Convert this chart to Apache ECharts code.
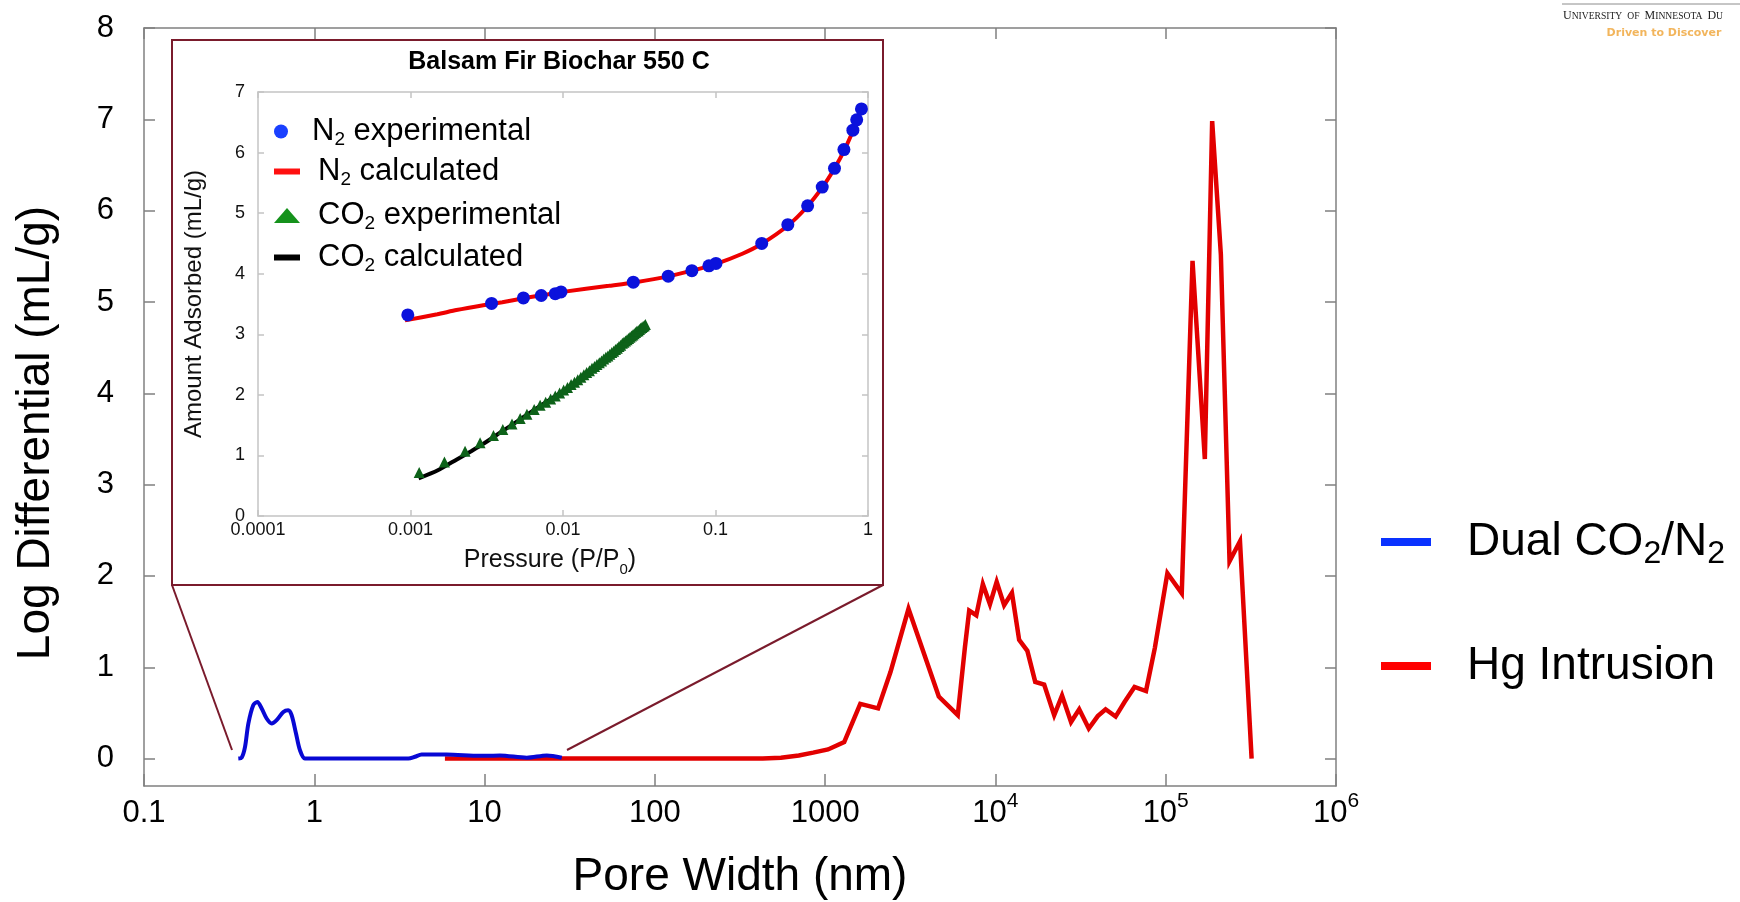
<!DOCTYPE html>
<html><head><meta charset="utf-8">
<script src="https://cdn.jsdelivr.net/npm/echarts@6/dist/echarts.min.js"></script>
<style>html,body{margin:0;padding:0;background:#fff}#c{width:1740px;height:902px}</style>
</head><body><div id="c"></div>
<script>
const FONT = "'Liberation Sans', Arial, sans-serif";

// ---- main chart ----
const mainXTicks = [0.1, 1, 10, 100, 1000, 10000, 100000, 1000000];
const mainXTickLabels = ['0.1', '1', '10', '100', '1000', '10^4', '10^5', '10^6'];
const mainYTicks = [0, 1, 2, 3, 4, 5, 6, 7, 8];

const dualPoreWidth = [0.358, 0.375, 0.392, 0.410, 0.438, 0.463, 0.491, 0.525, 0.562, 0.601, 0.658, 0.703, 0.736, 0.781, 0.824, 0.881, 1.0, 2.0, 3.57, 3.9, 4.27, 5.98, 9.4, 12.3, 17.7, 23.2, 28.4];
const dualLogDiff  = [0, 0.012, 0.128, 0.384, 0.585, 0.621, 0.549, 0.439, 0.384, 0.421, 0.511, 0.530, 0.475, 0.275, 0.092, 0.001, 0, 0, 0, 0.02, 0.045, 0.045, 0.03, 0.035, 0.01, 0.035, 0.01];

const hgPoreWidth = [5.85, 20, 100, 300, 430, 550, 700, 850, 1040, 1294, 1608, 2046, 2422, 3087, 4650, 6010, 6620, 7015, 7720, 8435, 9285, 10170, 11250, 12500, 13780, 15400, 17130, 19330, 22130, 24610, 27800, 31050, 35330, 39900, 44360, 50800, 57300, 65600, 76600, 86300, 102300, 124200, 143700, 169700, 187400, 210800, 237000, 273000, 319500];
const hgLogDiff  = [0, 0, 0, 0, 0, 0.01, 0.035, 0.065, 0.10, 0.18, 0.60, 0.55, 0.95, 1.64, 0.68, 0.475, 1.22, 1.62, 1.57, 1.91, 1.69, 1.935, 1.68, 1.815, 1.30, 1.18, 0.84, 0.81, 0.475, 0.69, 0.40, 0.54, 0.33, 0.465, 0.54, 0.46, 0.62, 0.785, 0.74, 1.21, 2.03, 1.81, 5.45, 3.28, 6.98, 5.52, 2.16, 2.38, 0];

// ---- inset chart ----
const insetXTicks = [0.0001, 0.001, 0.01, 0.1, 1];
const insetXTickLabels = ['0.0001', '0.001', '0.01', '0.1', '1'];
const insetYTicks = [0, 1, 2, 3, 4, 5, 6, 7];

const n2ExpP = [0.00096, 0.0034, 0.0055, 0.0072, 0.0089, 0.0097, 0.0289, 0.049, 0.070, 0.0905, 0.1007, 0.201, 0.298, 0.402, 0.501, 0.603, 0.695, 0.796, 0.843, 0.906];
const n2ExpV = [3.32, 3.51, 3.60, 3.64, 3.67, 3.70, 3.86, 3.96, 4.05, 4.13, 4.17, 4.50, 4.81, 5.12, 5.43, 5.74, 6.05, 6.37, 6.54, 6.72];

const n2CalcP = [0.00092, 0.0015, 0.002, 0.003, 0.004, 0.006, 0.008, 0.01, 0.02, 0.03, 0.05, 0.07, 0.1, 0.15, 0.2, 0.3, 0.4, 0.5, 0.6, 0.7, 0.8, 0.85, 0.93];
const n2CalcV = [3.23, 3.33, 3.40, 3.48, 3.53, 3.61, 3.66, 3.70, 3.80, 3.86, 3.96, 4.05, 4.16, 4.33, 4.49, 4.80, 5.11, 5.42, 5.73, 6.04, 6.37, 6.54, 6.77];

const co2ExpP = [0.00114, 0.00167, 0.00228, 0.00286, 0.0035, 0.00403, 0.00463, 0.00524, 0.0058, 0.00647, 0.00708, 0.0077, 0.0083, 0.0089, 0.0095, 0.0101, 0.0107, 0.0113, 0.0119, 0.0125, 0.0131, 0.0137, 0.0143, 0.0149, 0.0155, 0.0161, 0.0167, 0.0173, 0.0179, 0.0185, 0.0191, 0.0197, 0.0203, 0.0209, 0.0215, 0.0221, 0.0227, 0.0233, 0.0239, 0.0245, 0.0251, 0.0257, 0.0263, 0.0269, 0.0275, 0.0281, 0.0287, 0.0293, 0.0299, 0.0305, 0.0311, 0.0317, 0.0323, 0.0329, 0.0335, 0.0341, 0.0347];
const co2ExpV = [0.72, 0.89, 1.07, 1.21, 1.33, 1.43, 1.52, 1.61, 1.68, 1.76, 1.83, 1.88, 1.93, 1.98, 2.03, 2.08, 2.12, 2.17, 2.21, 2.25, 2.29, 2.33, 2.37, 2.40, 2.44, 2.47, 2.50, 2.53, 2.56, 2.59, 2.62, 2.64, 2.67, 2.70, 2.72, 2.75, 2.77, 2.80, 2.82, 2.85, 2.87, 2.89, 2.91, 2.93, 2.95, 2.97, 2.99, 3.01, 3.03, 3.05, 3.06, 3.08, 3.10, 3.11, 3.13, 3.14, 3.16];

const co2CalcP = [0.00113, 0.0015, 0.002, 0.0025, 0.003, 0.004, 0.005, 0.007, 0.01, 0.015, 0.02, 0.025, 0.03, 0.0347];
const co2CalcV = [0.62, 0.75, 0.93, 1.07, 1.19, 1.40, 1.56, 1.81, 2.06, 2.40, 2.66, 2.87, 3.03, 3.16];

function zip(a, b) { return a.map((v, i) => [v, b[i]]); }
function subRich(name, base, sub) {
  return name.split(/(\d)/).filter(p => p !== '').map(p => /^\d$/.test(p) ? '{' + sub + '|' + p + '}' : '{' + base + '|' + p + '}').join('');
}

const FRAME = '#808080';
const INSET_FRAME = '#c4c4c4';
const DARKRED = '#7a1b2c';
const SERIF = "'Liberation Serif', 'Times New Roman', serif";

const chart = echarts.init(document.getElementById('c'), null, { renderer: 'canvas' });

const mainAxisCommon = {
  axisLine: { show: true, onZero: false, lineStyle: { color: FRAME, width: 1.5 } },
  splitLine: { show: false },
  minorTick: { show: false },
};

const insetLegendText = {
  fontFamily: FONT, color: '#000',
  rich: {
    sp: { width: 13, fontSize: 31, lineHeight: 36, fontFamily: FONT },
    n: { fontSize: 31, lineHeight: 36, fontFamily: FONT, color: '#000' },
    s: { fontSize: 19, lineHeight: 19, verticalAlign: 'bottom', fontFamily: FONT, color: '#000' }
  }
};
function insetLegend(name, icon, color, top, w, h) {
  return {
    left: 269, top: top, orient: 'vertical', selectedMode: false,
    itemWidth: w, itemHeight: h,
    data: [{ name: name, icon: icon, itemStyle: { color: color, borderWidth: 0 } }],
    formatter: n => '{sp| }' + subRich(n, 'n', 's'),
    textStyle: insetLegendText
  };
}

const option = {
  animation: false,
  backgroundColor: '#fff',
  textStyle: { fontFamily: FONT },
  grid: [
    { left: 144, right: 404, top: 28, bottom: 116, containLabel: false, outerBoundsMode: 'none' },
    { left: 258, right: 872, top: 92, bottom: 386, containLabel: false, outerBoundsMode: 'none' }
  ],
  xAxis: [
    Object.assign({}, mainAxisCommon, {
      type: 'log', logBase: 10, gridIndex: 0, position: 'bottom', min: 0.1, max: 1000000, splitNumber: 7,
      axisTick: { show: true, inside: true, length: 12, customValues: mainXTicks, lineStyle: { color: FRAME, width: 1.5 } },
      axisLabel: {
        show: true, customValues: mainXTicks, margin: 5, color: '#000',
        formatter: function (v) {
          const s = mainXTickLabels[Math.round(Math.log10(v)) + 1];
          if (s === undefined) return '';
          const p = s.split('^');
          return p.length > 1 ? '{b|' + p[0] + '}{sup|' + p[1] + '}' : '{b|' + s + '}';
        },
        rich: {
          b: { fontSize: 31, lineHeight: 45, fontFamily: FONT, color: '#000' },
          sup: { fontSize: 21, lineHeight: 19, verticalAlign: 'top', fontFamily: FONT, color: '#000' }
        }
      }
    }),
    Object.assign({}, mainAxisCommon, {
      type: 'log', logBase: 10, gridIndex: 0, position: 'top', min: 0.1, max: 1000000, splitNumber: 7,
      axisTick: { show: true, inside: true, length: 11, customValues: mainXTicks, lineStyle: { color: FRAME, width: 1.5 } },
      axisLabel: { show: false }
    }),
    {
      type: 'log', logBase: 10, gridIndex: 1, position: 'bottom', min: 0.0001, max: 1, splitNumber: 4,
      axisLine: { show: true, onZero: false, lineStyle: { color: INSET_FRAME, width: 1.5 } },
      axisTick: { show: true, inside: true, length: 6, customValues: insetXTicks, lineStyle: { color: INSET_FRAME, width: 1.5 } },
      axisLabel: {
        show: true, customValues: insetXTicks, margin: 4, fontSize: 18, lineHeight: 20, color: '#111', fontFamily: FONT,
        formatter: v => insetXTickLabels[Math.round(Math.log10(v)) + 4] || ''
      },
      splitLine: { show: false }, minorTick: { show: false }
    },
    {
      type: 'log', logBase: 10, gridIndex: 1, position: 'top', min: 0.0001, max: 1, splitNumber: 4,
      axisLine: { show: true, onZero: false, lineStyle: { color: INSET_FRAME, width: 1.5 } },
      axisTick: { show: true, inside: true, length: 6, customValues: insetXTicks, lineStyle: { color: INSET_FRAME, width: 1.5 } },
      axisLabel: { show: false }, splitLine: { show: false }, minorTick: { show: false }
    }
  ],
  yAxis: [
    Object.assign({}, mainAxisCommon, {
      type: 'value', gridIndex: 0, position: 'left', min: -0.3, max: 8,
      axisTick: { show: true, inside: true, length: 11, customValues: mainYTicks, lineStyle: { color: FRAME, width: 1.5 } },
      axisLabel: { show: true, customValues: mainYTicks, margin: 30, fontSize: 31, color: '#000', fontFamily: FONT }
    }),
    Object.assign({}, mainAxisCommon, {
      type: 'value', gridIndex: 0, position: 'right', min: -0.3, max: 8,
      axisTick: { show: true, inside: true, length: 11, customValues: mainYTicks, lineStyle: { color: FRAME, width: 1.5 } },
      axisLabel: { show: false }
    }),
    {
      type: 'value', gridIndex: 1, position: 'left', min: 0, max: 7,
      axisLine: { show: true, onZero: false, lineStyle: { color: INSET_FRAME, width: 1.5 } },
      axisTick: { show: true, inside: true, length: 6, customValues: insetYTicks, lineStyle: { color: INSET_FRAME, width: 1.5 } },
      axisLabel: { show: true, customValues: insetYTicks, margin: 13, fontSize: 18, color: '#111', fontFamily: FONT },
      splitLine: { show: false }
    },
    {
      type: 'value', gridIndex: 1, position: 'right', min: 0, max: 7,
      axisLine: { show: true, onZero: false, lineStyle: { color: INSET_FRAME, width: 1.5 } },
      axisTick: { show: true, inside: true, length: 6, customValues: insetYTicks, lineStyle: { color: INSET_FRAME, width: 1.5 } },
      axisLabel: { show: false }, splitLine: { show: false }
    }
  ],
  legend: [
    {
      left: 1381, top: 519, padding: 0, orient: 'vertical', selectedMode: false,
      itemWidth: 50, itemHeight: 8, itemGap: 73,
      data: [
        { name: 'Dual CO2/N2', icon: 'rect', itemStyle: { color: '#0a32ff' } },
        { name: 'Hg Intrusion', icon: 'rect', itemStyle: { color: '#ff0000' } }
      ],
      formatter: n => '{sp| }' + subRich(n, 'n', 's'),
      textStyle: {
        fontFamily: FONT, color: '#000',
        rich: {
          sp: { width: 31, fontSize: 46, lineHeight: 56, fontFamily: FONT },
          n: { fontSize: 46, lineHeight: 56, fontFamily: FONT, color: '#000' },
          s: { fontSize: 32, lineHeight: 32, verticalAlign: 'bottom', fontFamily: FONT, color: '#000' }
        }
      }
    },
    insetLegend('N2 experimental', 'circle', '#1a40ff', 111, 26, 14),
    insetLegend('N2 calculated', 'rect', '#ff1010', 151, 26, 6),
    insetLegend('CO2 experimental', 'triangle', '#15921c', 195, 26, 15),
    insetLegend('CO2 calculated', 'rect', '#000000', 237, 26, 6)
  ],
  series: [
    {
      name: 'Hg Intrusion', type: 'line', xAxisIndex: 0, yAxisIndex: 0,
      data: zip(hgPoreWidth, hgLogDiff), showSymbol: false, symbol: 'none',
      lineStyle: { color: '#e20000', width: 4.5, join: 'miter' }, itemStyle: { color: '#e20000' }, z: 3
    },
    {
      name: 'Dual CO2/N2', type: 'line', xAxisIndex: 0, yAxisIndex: 0,
      data: zip(dualPoreWidth, dualLogDiff), showSymbol: false, symbol: 'none', smooth: 0.3,
      lineStyle: { color: '#0808d4', width: 4 }, itemStyle: { color: '#0808d4' }, z: 4
    },
    {
      name: 'N2 calculated', type: 'line', xAxisIndex: 2, yAxisIndex: 2,
      data: zip(n2CalcP, n2CalcV), showSymbol: false, symbol: 'none', smooth: 0.2,
      lineStyle: { color: '#ee0000', width: 4 }, itemStyle: { color: '#ee0000' }, z: 3
    },
    {
      name: 'CO2 calculated', type: 'line', xAxisIndex: 2, yAxisIndex: 2,
      data: zip(co2CalcP, co2CalcV), showSymbol: false, symbol: 'none', smooth: 0.2,
      lineStyle: { color: '#000000', width: 4 }, itemStyle: { color: '#000000' }, z: 3
    },
    {
      name: 'N2 experimental', type: 'scatter', xAxisIndex: 2, yAxisIndex: 2,
      data: zip(n2ExpP, n2ExpV), symbol: 'circle', symbolSize: 13,
      itemStyle: { color: '#0b12dc', opacity: 1 }, z: 5
    },
    {
      name: 'CO2 experimental', type: 'scatter', xAxisIndex: 2, yAxisIndex: 2,
      data: zip(co2ExpP, co2ExpV), symbol: 'triangle', symbolSize: 11,
      itemStyle: { color: '#0d6219', opacity: 1 }, z: 5
    }
  ],
  graphic: [
    { type: 'rect', shape: { x: 172, y: 40, width: 711, height: 545 }, style: { fill: 'none', stroke: DARKRED, lineWidth: 2 }, z: 10, silent: true },
    { type: 'line', shape: { x1: 172, y1: 585, x2: 232, y2: 750 }, style: { stroke: DARKRED, lineWidth: 2 }, z: 10, silent: true },
    { type: 'line', shape: { x1: 883, y1: 585, x2: 567, y2: 750 }, style: { stroke: DARKRED, lineWidth: 2 }, z: 10, silent: true },
    { type: 'text', x: 740, y: 877, style: { text: 'Pore Width (nm)', font: "46px 'Liberation Sans', Arial, sans-serif", fill: '#000', align: 'center', verticalAlign: 'middle' }, z: 10, silent: true },
    { type: 'text', x: 36, y: 433, rotation: Math.PI / 2, style: { text: 'Log Differential (mL/g)', font: "46px 'Liberation Sans', Arial, sans-serif", fill: '#000', align: 'center', verticalAlign: 'middle' }, z: 10, silent: true },
    { type: 'text', x: 559, y: 62, style: { text: 'Balsam Fir Biochar 550 C', font: "bold 25px 'Liberation Sans', Arial, sans-serif", fill: '#000', align: 'center', verticalAlign: 'middle' }, z: 10, silent: true },
    { type: 'text', x: 194, y: 304, rotation: Math.PI / 2, style: { text: 'Amount Adsorbed (mL/g)', font: "24px 'Liberation Sans', Arial, sans-serif", fill: '#111', align: 'center', verticalAlign: 'middle' }, z: 10, silent: true },
    { type: 'text', x: 550, y: 560, style: {
        text: '{n|Pressure (P/P}{s|0}{n|)}', align: 'center', verticalAlign: 'middle',
        rich: { n: { fontSize: 25, lineHeight: 34, fontFamily: FONT, fill: '#111' }, s: { fontSize: 15, lineHeight: 15, verticalAlign: 'bottom', fontFamily: FONT, fill: '#111' } }
      }, z: 10, silent: true },
    { type: 'line', shape: { x1: 1562, y1: 4, x2: 1740, y2: 4 }, style: { stroke: '#8c8c8c', lineWidth: 1 }, z: 10, silent: true },
    { type: 'text', x: 1563, y: 16, style: {
        text: '{c|U}{s|NIVERSITY}{g| }{s|OF}{g| }{c|M}{s|INNESOTA}{g| }{c|D}{s|U}', verticalAlign: 'middle',
        rich: {
          c: { fontSize: 12, fontFamily: SERIF, fill: '#222' },
          s: { fontSize: 9.6, fontFamily: SERIF, fill: '#222' },
          g: { width: 5, fontSize: 9.6, fontFamily: SERIF }
        }
      }, z: 10, silent: true },
    { type: 'text', x: 1664, y: 33, style: { text: 'Driven to Discover', font: "bold 11px 'DejaVu Sans', sans-serif", fill: '#f2b55c', align: 'center', verticalAlign: 'middle' }, z: 10, silent: true }
  ]
};
chart.setOption(option);
</script></body></html>
